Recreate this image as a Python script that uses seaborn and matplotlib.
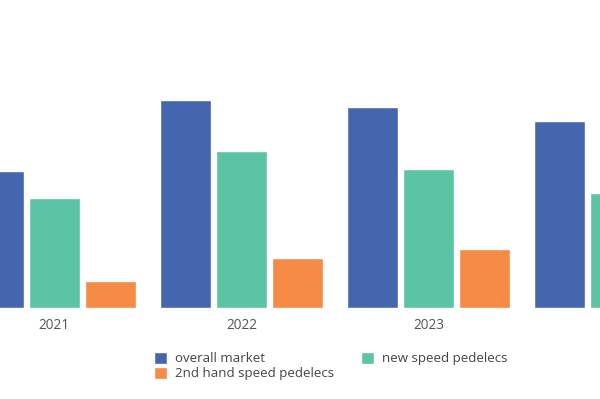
import matplotlib
matplotlib.use("Agg")
import matplotlib.pyplot as plt
import pandas as pd
import seaborn as sns

years = ["2021", "2022", "2023", "2024"]
series = ["overall market", "new speed pedelecs", "2nd hand speed pedelecs"]
overall_market = [13.7, 20.8, 20.1, 18.7]
new_speed_pedelecs = [11.0, 15.7, 13.9, 11.5]
second_hand_speed_pedelecs = [2.7, 5.0, 5.9, 7.2]
colors = ["#4466AF", "#5BC4A4", "#F58B44"]

df = pd.DataFrame({
    "year": years * 3,
    "series": [s for s in series for _ in years],
    "value": overall_market + new_speed_pedelecs + second_hand_speed_pedelecs,
})

sns.set_theme(style="white")
plt.rcParams["font.family"] = ["Open Sans", "DejaVu Sans"]

fig = plt.figure(figsize=(6, 3.99), dpi=100)
ax = fig.add_axes([0, (399 - 308.3) / 399, 1, 308.3 / 399])

sns.barplot(data=df, x="year", y="value", hue="series", hue_order=series,
            palette=colors, width=0.9, gap=0.08, saturation=1, ax=ax, legend=True)

ax.set_xlim(-0.291, 2.917)
ax.set_ylim(0, 30.83)
ax.set_xlabel("")
ax.set_ylabel("")
ax.set_yticks([])
ax.tick_params(axis="x", length=0, pad=7, labelsize=9.8, labelcolor="#555555")
sns.despine(ax=ax, left=True, bottom=True, top=True, right=True)

handles, labels = ax.get_legend_handles_labels()
ax.get_legend().remove()
order = [0, 2, 1]
fig.legend([handles[i] for i in order], [labels[i] for i in order],
           ncol=2, frameon=False, loc="upper left",
           bbox_to_anchor=(154 / 600, 1 - 352 / 399), bbox_transform=fig.transFigure,
           borderpad=0, borderaxespad=0, handlelength=1.0, handleheight=1.0,
           handletextpad=0.6, labelspacing=0.1, columnspacing=2.0,
           fontsize=9.5, labelcolor="#444444")

fig.savefig("out.png", dpi=100)
